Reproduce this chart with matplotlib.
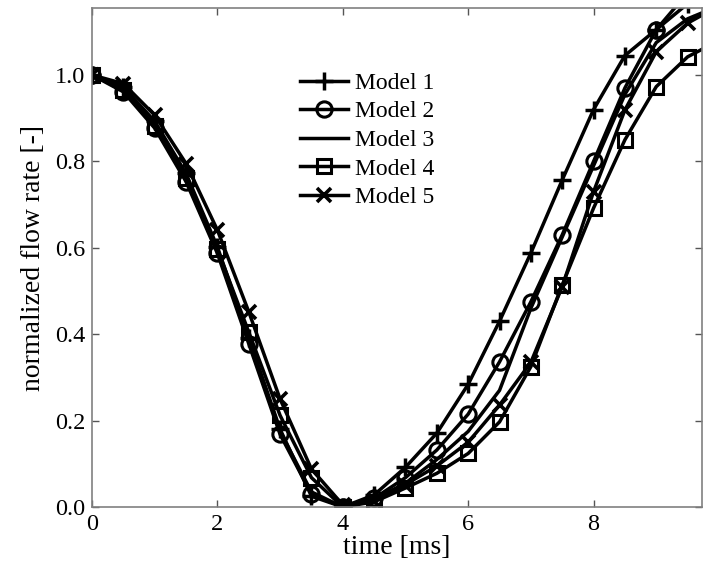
import matplotlib.pyplot as plt
import numpy as np

plt.rcParams['font.family'] = ['Liberation Serif', 'DejaVu Serif']

# time points [ms]
t = [0, 0.5, 1, 1.5, 2, 2.5, 3, 3.5, 4, 4.5, 5, 5.5, 6, 6.5, 7, 7.5, 8, 8.5, 9, 9.5, 10]

# normalized flow rate
model1 = [1.0, 0.972, 0.893, 0.772, 0.602, 0.392, 0.180, 0.025, 0.0, 0.028, 0.092, 0.171, 0.284, 0.430, 0.588, 0.757, 0.920, 1.045, 1.105, 1.165, 1.21]
model2 = [1.0, 0.961, 0.877, 0.753, 0.587, 0.378, 0.168, 0.030, 0.0, 0.020, 0.068, 0.132, 0.215, 0.336, 0.475, 0.630, 0.800, 0.970, 1.105, 1.19, 1.25]
model3 = [1.0, 0.965, 0.880, 0.760, 0.592, 0.385, 0.175, 0.035, 0.0, 0.018, 0.055, 0.110, 0.175, 0.270, 0.460, 0.625, 0.790, 0.955, 1.075, 1.130, 1.16]
model4 = [1.0, 0.966, 0.882, 0.762, 0.597, 0.405, 0.212, 0.068, 0.0, 0.012, 0.044, 0.078, 0.124, 0.197, 0.325, 0.514, 0.692, 0.850, 0.973, 1.042, 1.08]
model5 = [1.0, 0.980, 0.907, 0.795, 0.641, 0.452, 0.250, 0.088, 0.005, 0.015, 0.052, 0.095, 0.150, 0.236, 0.335, 0.510, 0.730, 0.919, 1.054, 1.120, 1.16]

labels = ['Model 1', 'Model 2', 'Model 3', 'Model 4', 'Model 5']

fig = plt.figure(figsize=(7.11, 5.72), dpi=100)
ax = fig.add_axes([0.1294, 0.1136, 0.858, 0.8724])

lw = 2.5
ax.plot(t, model1, color='k', lw=lw, marker='+', ms=13, mew=2.5, label=labels[0])
ax.plot(t, model2, color='k', lw=lw, marker='o', ms=11, mew=2.2, mfc='none', label=labels[1])
ax.plot(t, model3, color='k', lw=lw, label=labels[2])
ax.plot(t, model4, color='k', lw=lw, marker='s', ms=10, mew=2.2, mfc='none', label=labels[3])
ax.plot(t, model5, color='k', lw=lw, marker='x', ms=10, mew=2.6, label=labels[4])

ax.set_xlim(0, 9.73)
ax.set_ylim(0, 1.155)
ax.set_xticks([0, 2, 4, 6, 8])
ax.set_yticks([0.0, 0.2, 0.4, 0.6, 0.8, 1.0])
ax.set_yticklabels(['0.0', '0.2', '0.4', '0.6', '0.8', '1.0'])
ax.tick_params(direction='in', length=5, width=1, color='#555555',
               top=True, right=True, labelsize=17.5, pad=5)
for s in ax.spines.values():
    s.set_color('#808080')
    s.set_linewidth(1.2)

ax.set_xlabel('time [ms]', fontsize=20, labelpad=0)
ax.set_ylabel('normalized flow rate [-]', fontsize=20, labelpad=6)

ax.legend(loc='upper left', bbox_to_anchor=(0.326, 0.89), frameon=False,
          fontsize=17, handlelength=2.0, handletextpad=0.3, labelspacing=0.3,
          borderaxespad=0)

fig.savefig('out.png', dpi=100)
